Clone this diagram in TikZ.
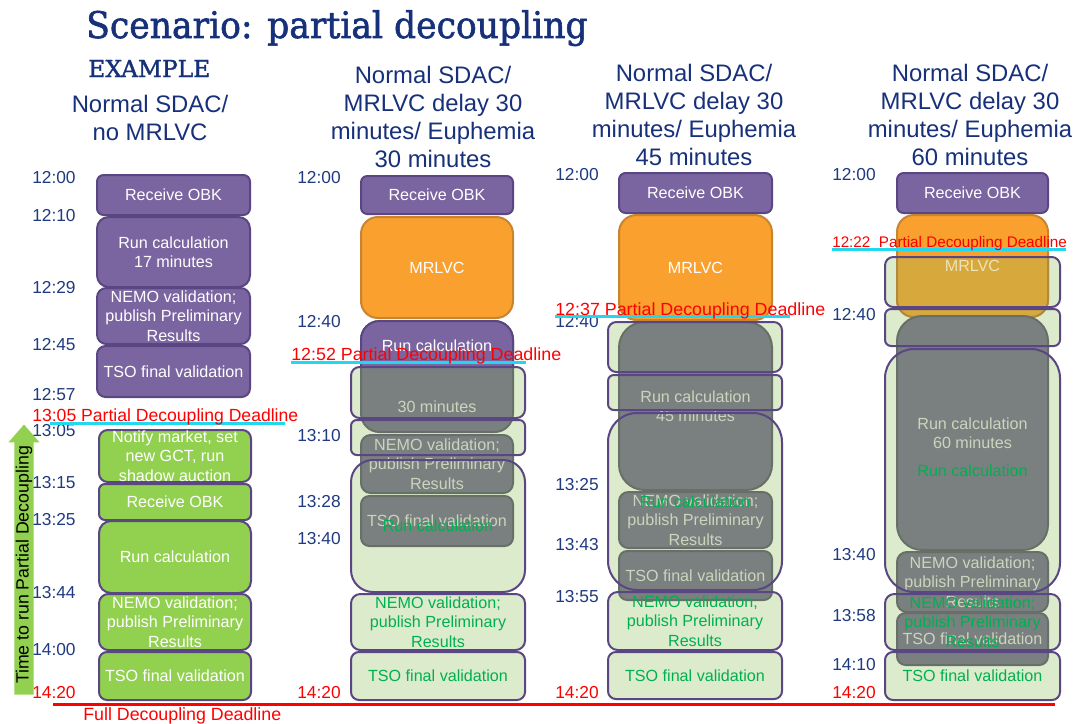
\documentclass[tikz,border=0pt]{standalone}
\usepackage{fontspec}
\setmainfont{Liberation Sans}
\newfontfamily\slab[FakeBold=1.6]{DejaVu Serif}
\usepackage{graphicx}
\usetikzlibrary{shapes.arrows}
\pgfdeclarelayer{background}
\pgfsetlayers{background,main}

\definecolor{navy}{HTML}{17307A}
\definecolor{tnavy}{HTML}{1F3A80}
\definecolor{pfill}{HTML}{7A65A0}
\definecolor{pdraw}{HTML}{594683}
\definecolor{ofill}{HTML}{F9A02F}
\definecolor{odraw}{HTML}{C8852E}
\definecolor{tfill}{HTML}{D7A93C}
\definecolor{tdraw}{HTML}{B08A3A}
\definecolor{tintext}{HTML}{EEE2B8}
\definecolor{vgreen}{HTML}{92D050}
\definecolor{gyfill}{HTML}{7A8080}
\definecolor{gydraw}{HTML}{677067}
\definecolor{gytext}{HTML}{CBD5BC}
\definecolor{lgfill}{HTML}{DCEBCC}
\definecolor{gtext}{HTML}{00B050}
\definecolor{dlred}{HTML}{FF0000}
\definecolor{cyanl}{HTML}{22D8EE}

\newcommand\boxfont{\fontsize{12.1}{14.6}\selectfont}
\newcommand\timefont{\fontsize{13}{15}\selectfont}
\newcommand\headfont{\fontsize{17.9}{21}\selectfont}
\newcommand\redfont{\fontsize{13.2}{15}\selectfont}

\tikzset{
  bxbase/.style={inner sep=0pt, outer sep=0pt, line width=1.5pt, font=\boxfont, align=center},
  pbox/.style={bxbase, fill=pfill, draw=pdraw, text=white},
  obox/.style={bxbase, fill=ofill, draw=odraw, text=white},
  tbox/.style={bxbase, fill=tfill, draw=tdraw, text=tintext},
  vgbox/.style={bxbase, fill=vgreen, draw=pdraw, text=white},
  gybox/.style={bxbase, fill=gyfill, draw=gydraw, text=gytext},
  lgbox/.style={bxbase, draw=pdraw, text=gtext},
  head/.style={inner sep=0pt, font=\headfont, align=center, text=navy},
  tl/.style={anchor=west, inner sep=0pt, font=\timefont, text=tnavy},
  tlred/.style={tl, text=dlred},
  redtxt/.style={anchor=base west, inner sep=0pt, font=\redfont, text=dlred},
  cyanline/.style={draw=cyanl, line width=2.25pt},
  redline/.style={draw=dlred, line width=2.25pt},
}

% box: name, style, x1, y1, x2, y2, text
\newcommand\Bx[7]{%
  \pgfmathsetmacro\myW{(#5-#3)*0.75}%
  \pgfmathsetmacro\myH{(#6-#4)*0.75}%
  \pgfmathsetmacro\myR{0.1667*min(\myW,\myH)}%
  \node[#2, minimum width=\myW pt, minimum height=\myH pt, rounded corners=\myR pt] (#1) at ({(#3+#5)/2},{(#4+#6)/2}) {};%
  \node[#2, draw=none, fill=none] (#1t) at (#1.center) {#7};%
}
% light green fallback box: name, x1, y1, x2, y2, text
\newcommand\LG[6]{%
  \pgfmathsetmacro\myW{(#4-#2)*0.75}%
  \pgfmathsetmacro\myH{(#5-#3)*0.75}%
  \pgfmathsetmacro\myR{0.1667*min(\myW,\myH)}%
  \begin{pgfonlayer}{background}
    \fill[lgfill, rounded corners=\myR pt] (#2,#3) rectangle (#4,#5);
  \end{pgfonlayer}
  \node[lgbox, minimum width=\myW pt, minimum height=\myH pt, rounded corners=\myR pt] (#1) at ({(#2+#4)/2},{(#3+#5)/2}) {};%
  \node[lgbox, draw=none] (#1t) at (#1.center) {#6};%
}

\begin{document}
\begin{tikzpicture}[x=0.75pt, y=-0.75pt]
\useasboundingbox (0,0) rectangle (1078,724);

% ---------- title & headings
\node[anchor=base west, inner sep=0pt, text=navy] (title) at (86,38)
  {\resizebox{376pt}{\height}{\slab\fontsize{27.5}{30}\selectfont Scenario: partial decoupling}};
\node[anchor=base west, inner sep=0pt, text=navy] (example) at (88,77)
  {\resizebox{91.5pt}{\height}{\slab\fontsize{17.5}{19}\selectfont EXAMPLE}};
\node[head] (h1) at (150,117.5) {Normal SDAC/\\no MRLVC};
\node[head] (h2) at (433,116.5) {Normal SDAC/\\MRLVC delay 30\\minutes/ Euphemia\\30 minutes};
\node[head] (h3) at (694,114.5) {Normal SDAC/\\MRLVC delay 30\\minutes/ Euphemia\\45 minutes};
\node[head] (h4) at (970,114.5) {Normal SDAC/\\MRLVC delay 30\\minutes/ Euphemia\\60 minutes};

% ---------- column 1
\Bx{a1}{pbox}{97}{175}{250}{215}{Receive OBK}
\Bx{a2}{pbox}{97}{217}{250}{287}{Run calculation\\17 minutes}
\Bx{a3}{pbox}{97}{288}{250}{344}{NEMO validation;\\publish Preliminary\\Results}
\Bx{a4}{pbox}{97}{346}{250}{397}{TSO final validation}
\Bx{a5}{vgbox}{99}{430}{251}{482}{Notify market, set\\new GCT, run\\shadow auction}
\Bx{a6}{vgbox}{99}{484}{251}{520}{Receive OBK}
\Bx{a7}{vgbox}{99}{521}{251}{593}{Run calculation}
\Bx{a8}{vgbox}{99}{594}{251}{650}{NEMO validation;\\publish Preliminary\\Results}
\Bx{a9}{vgbox}{99}{652}{251}{700}{TSO final validation}

% ---------- column 2
\Bx{b1}{pbox}{361}{176}{513}{214}{Receive OBK}
\Bx{b2}{obox}{361}{217}{513}{318}{MRLVC}
\Bx{b3}{gybox}{361}{321}{513}{432}{}
\begin{scope}
  \clip (340,300) rectangle (540,367);
  \Bx{b3p}{pbox}{361}{321}{513}{432}{}
\end{scope}
\node[bxbase, text=white] (b3w) at (437,346) {Run calculation};
\node[bxbase, text=gytext] (b3g) at (437,407) {30 minutes};
\Bx{b4}{gybox}{361}{435}{513}{493}{NEMO validation;\\publish Preliminary\\Results}
\Bx{b5}{gybox}{361}{496}{513}{546}{TSO final validation}
\LG{bg1}{351}{367}{525}{418}{}
\LG{bg2}{351}{420}{525}{455}{}
\LG{bg3}{351}{460}{525}{592}{Run calculation}
\LG{bg4}{351}{594}{525}{650}{NEMO validation;\\publish Preliminary\\Results}
\LG{bg5}{351}{652}{525}{700}{TSO final validation}

% ---------- column 3
\Bx{c1}{pbox}{619}{173}{772}{213}{Receive OBK}
\Bx{c2}{obox}{619}{215}{772}{320}{MRLVC}
\Bx{c3}{gybox}{619}{322}{772}{490}{Run calculation\\45 minutes}
\Bx{c4}{gybox}{619}{492}{772}{548}{NEMO validation;\\publish Preliminary\\Results}
\Bx{c5}{gybox}{619}{551}{772}{600}{TSO final validation}
\LG{cg1}{608}{322}{782}{372}{}
\LG{cg2}{608}{375}{782}{410}{}
\LG{cg3}{608}{413}{782}{590}{Run calculation}
\LG{cg4}{608}{592}{782}{650}{NEMO validation;\\publish Preliminary\\Results}
\LG{cg5}{608}{652}{782}{699}{TSO final validation}

% ---------- column 4
\Bx{d1}{pbox}{897}{173}{1048}{213}{Receive OBK}
\Bx{d2}{obox}{897}{215}{1048}{317}{}
\begin{scope}
  \clip (870,257) rectangle (1070,330);
  \Bx{d2m}{tbox}{897}{215}{1048}{317}{MRLVC}
\end{scope}
\Bx{d3}{gybox}{897}{316}{1048}{550}{Run calculation\\60 minutes}
\Bx{d4}{gybox}{897}{552}{1048}{612}{NEMO validation;\\publish Preliminary\\Results}
\Bx{d5}{gybox}{897}{613}{1048}{665}{TSO final validation}
\LG{dg1}{885}{257}{1060}{307}{}
\LG{dg2}{885}{309}{1060}{346}{}
\LG{dg3}{885}{349}{1060}{592}{Run calculation}
\LG{dg4}{885}{594}{1060}{650}{NEMO validation;\\publish Preliminary\\Results}
\LG{dg5}{885}{652}{1060}{700}{TSO final validation}

% ---------- arrow
\node[single arrow, fill=vgreen, draw=none, rotate=90, minimum height=202.5pt,
      inner sep=0.75pt, single arrow head extend=4.5pt, single arrow tip angle=82,
      font=\fontsize{13.3}{15}\selectfont, text=black] (arr) at (24,565) {Time to run Partial Decoupling};

% ---------- time labels
\foreach \t/\y [count=\i] in {12:00/178,12:10/216,12:29/288,12:45/345,12:57/395,13:05/431,13:15/483,13:25/520,13:44/593,14:00/650}
  \node[tl] (ta\i) at (32,\y) {\t};
\node[tlred] (ta11) at (32,693) {14:20};
\foreach \t/\y [count=\i] in {12:00/178,12:40/322,13:10/436,13:28/502,13:40/539}
  \node[tl] (tb\i) at (297,\y) {\t};
\node[tlred] (tb6) at (297,693) {14:20};
\foreach \t/\y [count=\i] in {12:00/175,12:40/322,13:25/485,13:43/545,13:55/597}
  \node[tl] (tc\i) at (555,\y) {\t};
\node[tlred] (tc6) at (555,693) {14:20};
\foreach \t/\y [count=\i] in {12:00/175,12:40/315,13:40/555,13:58/616,14:10/665}
  \node[tl] (td\i) at (832,\y) {\t};
\node[tlred] (td6) at (832,693) {14:20};

% ---------- partial decoupling deadlines
\coordinate (k1a) at (50,423);  \coordinate (k1b) at (285,423);
\coordinate (k2a) at (291,362); \coordinate (k2b) at (526,362);
\coordinate (k3a) at (555,316); \coordinate (k3b) at (790,316);
\coordinate (k4a) at (832,249); \coordinate (k4b) at (1066,249);
\draw[cyanline] (k1a) -- (k1b);
\draw[cyanline] (k2a) -- (k2b);
\draw[cyanline] (k3a) -- (k3b);
\draw[cyanline] (k4a) -- (k4b);
\node[redtxt] (r1) at (32,421) {\resizebox{199.5pt}{\height}{13:05 Partial Decoupling Deadline}};
\node[redtxt] (r2) at (291,360) {\resizebox{202.5pt}{\height}{12:52 Partial Decoupling Deadline}};
\node[redtxt] (r3) at (555,315) {\resizebox{202.5pt}{\height}{12:37 Partial Decoupling Deadline}};
\node[redtxt, font=\fontsize{11.5}{13}\selectfont] (r4) at (832,247) {\resizebox{176pt}{\height}{12:22\ \ Partial Decoupling Deadline}};

% ---------- full decoupling deadline
\coordinate (fd1) at (53,704); \coordinate (fd2) at (1055,704);
\draw[redline] (fd1) -- (fd2);
\node[redtxt, font=\fontsize{13.3}{15}\selectfont] (fdt) at (83,720) {\resizebox{148.5pt}{\height}{Full Decoupling Deadline}};
\end{tikzpicture}
\end{document}
